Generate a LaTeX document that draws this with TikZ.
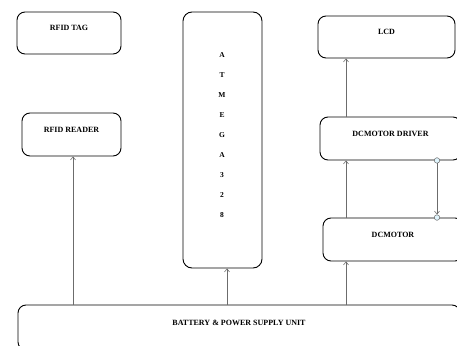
\documentclass[tikz,border=0pt]{standalone}
\usepackage{fontspec}
\setmainfont{Liberation Serif}
\usetikzlibrary{arrows.meta}
\tikzset{
  blk/.style={draw=black, line width=0.9pt, rounded corners=8pt, inner sep=0pt,
    font=\fontsize{8}{9}\selectfont\bfseries, text height=6pt, text depth=10pt, align=center},
  arr/.style={draw=gray!85!black, line width=0.6pt, -{Straight Barb[length=3pt,width=5pt]}},
  dot/.style={circle, draw=gray!80!black, fill=cyan!12, line width=0.5pt, inner sep=0pt, minimum size=5.5pt},
  letters/.style={font=\fontsize{7.5}{20}\selectfont\bfseries, align=center, inner sep=0pt}
}
\begin{document}
\begin{tikzpicture}[x=1pt,y=-1pt]
\useasboundingbox (0,0) rectangle (457,345);
\clip (0,0) rectangle (457,345);
\node[blk, minimum width=104pt, minimum height=42pt] (tag) at (69,33) {RFID TAG};
\node[blk, minimum width=99pt, minimum height=43pt] (reader) at (71.5,134.5) {RFID READER};
\node[draw=black, line width=0.9pt, rounded corners=9pt, minimum width=79pt, minimum height=256pt, inner sep=0pt] (atm) at (222.5,140) {};
\node[letters] (atmtext) at (222,135) {A\\T\\M\\E\\G\\A\\3\\2\\8};
\node[blk, minimum width=137pt, minimum height=42pt] (lcd) at (386.5,37) {LCD};
\node[blk, minimum width=141pt, minimum height=43pt] (drv) at (390.5,138.5) {DCMOTOR DRIVER};
\node[blk, minimum width=140pt, minimum height=43pt] (dcm) at (393,239.5) {DCMOTOR};
\node[blk, minimum width=442pt, minimum height=45pt] (bat) at (239,327.5) {BATTERY \& POWER SUPPLY UNIT};
\coordinate (xr) at (73,0);
\coordinate (xa) at (227,0);
\coordinate (xm) at (346,0);
\coordinate (xc) at (437,0);
\draw[arr] (bat.north -| xr) -- (reader.south -| xr);
\draw[arr] (bat.north -| xa) -- (atm.south -| xa);
\draw[arr] (bat.north -| xm) -- (dcm.south -| xm);
\draw[arr] (dcm.north -| xm) -- (drv.south -| xm);
\draw[arr] (drv.north -| xm) -- (lcd.south -| xm);
\node[dot] (d1) at (drv.south -| xc) {};
\node[dot] (d2) at (dcm.north -| xc) {};
\draw[arr] (d1) -- (d2);
\end{tikzpicture}
\end{document}
